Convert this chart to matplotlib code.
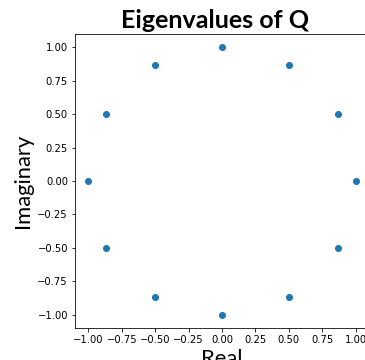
import matplotlib
matplotlib.use("Agg")
import matplotlib.pyplot as plt

# eigenvalues (12 points on the unit circle)
real = [1.0, 0.866, 0.5, 0.0, -0.5, -0.866, -1.0, -0.866, -0.5, 0.0, 0.5, 0.866]
imag = [0.0, 0.5, 0.866, 1.0, 0.866, 0.5, 0.0, -0.5, -0.866, -1.0, -0.866, -0.5]

ticks = [-1.00, -0.75, -0.50, -0.25, 0.00, 0.25, 0.50, 0.75, 1.00]

fig = plt.figure(figsize=(365 / 72, 360 / 72), dpi=72)
ax = fig.add_axes([75 / 365, 32 / 360, 294 / 365, 294 / 360])

ax.scatter(real, imag, color='#1f77b4')
ax.set_xlim(-1.1, 1.1)
ax.set_ylim(-1.1, 1.1)
ax.set_xticks(ticks)
ax.set_yticks(ticks)

ax.set_title('Eigenvalues of Q', fontsize=25, fontweight='bold', family='Lato', x=0.476)
ax.set_xlabel('Real', fontsize=22, family='Lato')
ax.set_ylabel('Imaginary', fontsize=22, family='Lato')

fig.savefig('out.png', dpi=72)
